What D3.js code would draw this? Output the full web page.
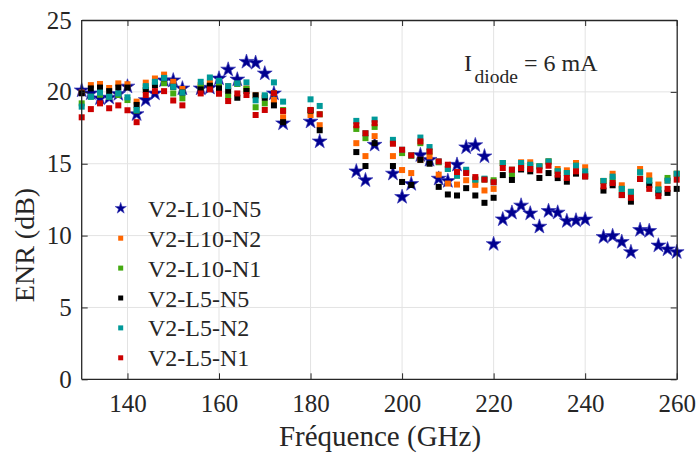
<!DOCTYPE html>
<html>
<head>
<meta charset="utf-8">
<script src="https://cdn.jsdelivr.net/npm/d3@7"></script>
<style>
  html, body { margin: 0; padding: 0; background: #fff; }
  svg { display: block; }
  svg text { font-family: 'Liberation Serif', 'Tinos', 'Times New Roman', 'DejaVu Serif', serif !important; fill: #262626; }
</style>
</head>
<body>
<svg id="chart" width="698" height="453"></svg>
<script>
// ---- data ----
const freq = [130,132,134,136,138,140,142,144,146,148,150,152,156,158,160,162,164,166,168,170,172,174,180,182,190,192,194,198,200,202,204,206,208,210,212,214,216,218,220,222,224,226,228,230,232,234,236,238,240,244,246,248,250,252,254,256,258,260];

const enrL10N5 = [20.1,19.9,19.55,19.6,19.85,20.37,18.45,19.43,19.89,20.8,20.8,20.24, 20.24,20.29,20.93,21.55,20.86,22.09,22.02,21.28,19.89,17.81, 17.93,16.55, 14.47,13.85,16.32, 14.31,12.69,13.59,15.6,15.27,13.96,13.8,14.93,16.14,16.29,15.51,9.41,11.13,11.59,12.09,11.54,10.62,11.71,11.6,11.01,11.05,11.12, 9.9,9.97,9.56,8.85,10.39,10.32,9.31,9.04,8.85];
const enrL10N2 = [19.95,20.47,20.55,20.27,20.59,20.53,19.32,20.64,20.93,21.2,20.7,20.2, 20.47,20.63,20.59,20.4,20.55,20.24,19.76,19.7,19.43,18.23, 18.39,17.68, 16.43,15.53,16.92, 15.53,14.56,14.35,15.27,15.51,14.24,13.62,13.55,13.85,13.53,13.14,13.25,15.05,14.58,15.1,15.1,14.82,15.16,14.63,14.54,15.05,14.75, 13.8,14.3,13.5,13.04,14.63,14.19,13.55,13.82,14.3];
const enrL10N1 = [19.2,19.66,19.8,19.66,19.78,19.43,18.7,20.3,20.65,20.6,19.89,19.55, 20.35,20.4,20.5,19.71,20.55,20.2,18.93,19.2,19.9,18.74, 18.74,18.44, 17.42,16.78,17.56, 16.45,15.74,15.55,16.43,15.85,15.1,14.64,14.17,14.45,13.9,13.9,13.85,15.05,14.24,14.9,14.8,14.82,15.16,14.47,14.35,14.86,14.28, 13.8,13.9,13.25,13.04,14.4,13.82,13.2,14.01,14.3];
const enrL5N5 = [19.9,20.24,20.3,20.05,20.3,20.3,19.09,20.12,20.47,20.95,20.35,19.95, 20.17,20.43,20.24,20.08,19.59,20.06,19.76,19.59,19.06,17.89, 18.7,17.33, 15.81,14.84,16.43, 14.84,13.73,13.52,15.27,15.0,13.39,12.86,12.79,13.3,12.79,12.28,12.63,14.21,13.87,14.6,14.47,14.01,14.35,14.0,13.75,14.31,14.12, 13.13,13.5,12.82,12.36,13.94,13.52,12.95,12.97,13.25];
const enrL5N2 = [18.97,19.66,19.95,19.66,19.89,19.62,18.74,20.4,20.7,20.97,20.35,19.95, 20.7,21.0,20.77,20.4,20.59,20.66,19.41,19.76,20.66,19.32, 19.48,19.02, 17.98,17.12,18.07, 16.66,15.97,15.58,16.82,16.16,15.16,14.64,14.17,14.58,13.9,13.96,13.71,15.05,14.58,15.05,14.93,14.82,15.16,14.47,14.35,14.86,14.47, 13.8,14.1,13.25,13.04,14.4,13.82,13.2,13.82,14.3];
const enrL5N1 = [18.23,18.8,19.2,18.86,19.06,18.72,17.89,19.78,20.05,20.05,19.4,19.06, 19.89,20.17,19.87,19.36,19.89,19.78,18.39,18.74,19.9,18.67, 18.74,18.44, 17.68,17.12,17.82, 16.39,15.97,15.58,16.55,15.85,15.16,14.93,14.42,14.35,14.07,13.89,13.71,14.7,14.58,14.7,14.63,14.54,14.86,14.24,14.01,14.47,14.12, 13.43,13.66,12.82,12.63,13.94,13.25,12.74,13.25,13.89];

const seriesNames = ["V2-L10-N5","V2-L10-N2","V2-L10-N1","V2-L5-N5","V2-L5-N2","V2-L5-N1"];
const xTicks = [140,160,180,200,220,240,260];
const yTicks = [0,5,10,15,20,25];

// ---- styles ----
const seriesValues = [enrL10N5, enrL10N2, enrL10N1, enrL5N5, enrL5N2, enrL5N1];
const seriesColors = ["#00008f","#ff6600","#44aa11","#000000","#009999","#cc0000"];
const seriesStar = [true,false,false,false,false,false];
const FONT = "'Liberation Serif', 'Tinos', 'Times New Roman', 'DejaVu Serif', serif";

const svg = d3.select("#chart");
const L = 81.7, R = 676.7, T = 20, B = 379.3;
const x = d3.scaleLinear().domain([130,260]).range([L,R]);
const y = d3.scaleLinear().domain([0,25]).range([B,T]);

// grid
const grid = svg.append("g");
grid.selectAll("line.gx").data(xTicks.filter(v => v < 260)).join("line")
  .attr("x1", d => x(d)).attr("x2", d => x(d)).attr("y1", T).attr("y2", B)
  .attr("stroke", "#e3e3e3").attr("stroke-width", 1);
grid.selectAll("line.gy").data(yTicks.filter(v => v > 0 && v < 25)).join("line")
  .attr("x1", L).attr("x2", R).attr("y1", d => y(d)).attr("y2", d => y(d))
  .attr("stroke", "#e3e3e3").attr("stroke-width", 1);

// data
const star = d3.symbol().type(d3.symbolStar).size(68);
const sq = 6;
seriesValues.forEach((vals, i) => {
  const pts = freq.map((f, j) => ({f, v: vals[j]})).filter(d => d.v != null);
  const g = svg.append("g");
  if (seriesStar[i]) {
    g.selectAll("path").data(pts).join("path")
      .attr("d", star)
      .attr("transform", d => `translate(${x(d.f)},${y(d.v)})`)
      .attr("fill", seriesColors[i]).attr("stroke", "#3a3ab8").attr("stroke-width", 0.7);
  } else {
    g.selectAll("rect").data(pts).join("rect")
      .attr("x", d => x(d.f) - sq/2).attr("y", d => y(d.v) - sq/2)
      .attr("width", sq).attr("height", sq)
      .attr("fill", seriesColors[i]);
  }
});

// axes
const axisColor = "#262626";
const xAxis = svg.append("g").attr("transform", `translate(0,${B})`)
  .call(d3.axisBottom(x).tickValues(xTicks).tickSizeInner(-6).tickSizeOuter(0).tickPadding(15));
const yAxis = svg.append("g").attr("transform", `translate(${L},0)`)
  .call(d3.axisLeft(y).tickValues(yTicks).tickSizeInner(-6).tickSizeOuter(0).tickPadding(10));
const xTop = svg.append("g").attr("transform", `translate(0,${T})`)
  .call(d3.axisTop(x).tickValues(xTicks).tickSizeInner(-6).tickSizeOuter(0).tickFormat(""));
const yRight = svg.append("g").attr("transform", `translate(${R},0)`)
  .call(d3.axisRight(y).tickValues(yTicks).tickSizeInner(-6).tickSizeOuter(0).tickFormat(""));
[xAxis, yAxis, xTop, yRight].forEach(a => {
  a.attr("font-family", FONT);
  a.selectAll(".domain").attr("stroke", axisColor).attr("stroke-width", 1.3);
  a.selectAll(".tick line").attr("stroke", axisColor).attr("stroke-width", 1);
  a.selectAll("text").attr("font-family", FONT)
    .attr("font-size", 25).attr("fill", "#262626");
});
xAxis.selectAll(".domain").attr("d", `M${L},0H${R}`);
yAxis.selectAll(".domain").attr("d", `M0,${B}V${T}`);

// axis titles
svg.append("text").attr("x", 380).attr("y", 446).attr("font-family", FONT)
  .attr("text-anchor", "middle").attr("font-size", 29).text("Fréquence (GHz)");
svg.append("text").attr("transform", `translate(34,245) rotate(-90)`).attr("font-family", FONT)
  .attr("text-anchor", "middle").attr("font-size", 28).text("ENR (dB)");

// annotation
svg.append("text").attr("x", 464).attr("y", 71).attr("font-family", FONT).attr("font-size", 24).text("I");
svg.append("text").attr("x", 474.5).attr("y", 83).attr("font-family", FONT).attr("font-size", 19.5).text("diode");
svg.append("text").attr("x", 524).attr("y", 71).attr("font-family", FONT).attr("font-size", 24).text("= 6 mA");

// legend
const legY0 = 208.3, legDy = 29.9, legX = 120.7;
const legendStar = d3.symbol().type(d3.symbolStar).size(40);
seriesNames.forEach((name, i) => {
  const cy = legY0 + i * legDy;
  if (seriesStar[i]) {
    svg.append("path").attr("d", legendStar).attr("transform", `translate(${legX},${cy})`)
      .attr("fill", seriesColors[i]).attr("stroke", "#3a3ab8").attr("stroke-width", 0.5);
  } else {
    svg.append("rect").attr("x", legX - 2.5).attr("y", cy - 2.5).attr("width", 5).attr("height", 5)
      .attr("fill", seriesColors[i]);
  }
  svg.append("text").attr("x", 148).attr("y", cy + 8.5).attr("font-family", FONT).attr("font-size", 24).text(name);
});
</script>
</body>
</html>
